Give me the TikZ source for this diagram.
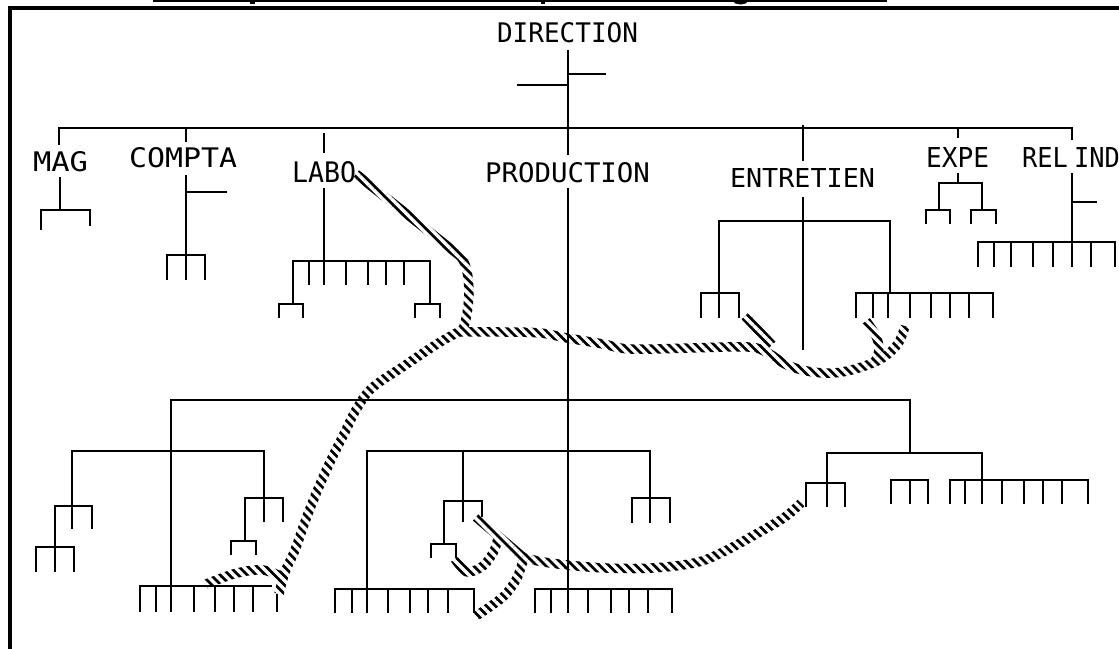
\documentclass[tikz,border=0pt]{standalone}
\usepackage{graphicx}
\usepackage{fontspec}
\newfontfamily\labfont{DejaVu Sans Mono}
\usetikzlibrary{patterns.meta}
\newcommand\orgbrack[4]{\draw[orgline] (#3,#2) -- (#3,#1) -- (#4,#1) -- (#4,#2);}
\newcommand\orgcomb[5]{\orgbrack{#1}{#2}{#3}{#4}\foreach \xx in {#5} {\draw[orgline] (\xx,#1) -- (\xx,#2);}}
\newcommand\lab[3]{\resizebox{#1bp}{#2bp}{\labfont #3}}
\begin{document}
\begin{tikzpicture}[x=1bp,y=-1bp,
  orgline/.style={line width=2bp, line join=miter},
  hatchband/.style={line width=9.5bp, line join=round},
  lab/.style={anchor=north west, inner sep=0pt, outer sep=0pt}]
\useasboundingbox (0,0) rectangle (1119,649);

% ---------- hatched paths (black bands, later striped) ----------
\draw[hatchband] (356,174) -- (460,256) .. controls (472,268) and (471,310) .. (462,332);
\draw[hatchband] plot[smooth, tension=0.6] coordinates {(458,332) (503,332) (540,333) (567,338) (603,344) (630,349) (690,348) (748,347) (768,353) (787,365) (813,372) (842,372) (877,361) (897,345) (905,326)};
\draw[hatchband] plot[smooth] coordinates {(866,321) (876,336) (879,350) (874,364)};
\draw[hatchband] (745,316) -- (772,345);
\draw[hatchband] plot[smooth, tension=0.6] coordinates {(462,330) (437,344) (404,366) (372,388) (356,410) (345,432) (331,460) (318,489) (306,519) (295,550) (285,572) (279,594)};
\draw[hatchband] plot[smooth] coordinates {(285,578) (263,570) (237,573) (206,584)};
\draw[hatchband] (476,517) -- (524,558);
\draw[hatchband] plot[smooth, tension=0.6] coordinates {(520,556) (538,561) (567,565) (606,568) (652,568) (694,563) (721,553) (758,533) (785,517) (801,503)};
\draw[hatchband] plot[smooth] coordinates {(455,559) (467,572) (483,566) (494,551) (499,534)};
\draw[hatchband] plot[smooth] coordinates {(476,616) (503,597) (517,578) (524,557)};
\fill[pattern={Lines[angle=-45,distance=6.4bp,line width=3.4bp]}, pattern color=white] (180,150) rectangle (940,630);

% ---------- labels ----------
\node[lab] (dir)  at (497,23)  {\lab{141}{20}{DIRECTION}};
\node[lab] (mag)  at (33,152)  {\lab{55}{20}{MAG}};
\node[lab] (cpt)  at (129,148) {\lab{108}{20}{COMPTA}};
\node[lab] (labo) at (292,162) {\lab{64}{21}{LABO}};
\node[lab] (prod) at (485,163) {\lab{165}{20}{PRODUCTION}};
\node[lab] (ent)  at (730,168) {\lab{145}{19}{ENTRETIEN}};
\node[lab] (expe) at (926,147) {\lab{63}{20}{EXPE}};
\node[lab] (rel)  at (1022,147){\lab{98}{20}{REL\kern-0.35em\ IND}};

% ---------- top level ----------
\draw[orgline] (568,50) -- (568,155);
\draw[orgline] (568,74) -- (606,74);
\draw[orgline] (517,85) -- (568,85);
\draw[orgline] (59,145) -- (59,128) -- (1072,128) -- (1072,140);
\draw[orgline] (186,128) -- (186,142);
\draw[orgline] (324,133) -- (324,153);
\draw[orgline] (803,125) -- (803,161);
\draw[orgline] (958,128) -- (958,138);

% MAG
\draw[orgline] (60,177) -- (60,210);
\draw[orgline] (41,230) -- (41,210) -- (90,210) -- (90,226);
% COMPTA
\draw[orgline] (186,175) -- (186,255);
\draw[orgline] (186,192) -- (227,192);
\orgcomb{255}{280}{167}{205}{186}
% LABO
\draw[orgline] (324,188) -- (324,261);
\orgcomb{261}{285}{293}{430}{309,324,346,368,386,404}
\draw[orgline] (293,261) -- (293,304);
\draw[orgline] (430,261) -- (430,304);
\orgbrack{304}{318}{279}{303}
\orgbrack{304}{318}{415}{440}
% ENTRETIEN
\draw[orgline] (803,197) -- (803,350);
\draw[orgline] (719,293) -- (719,221) -- (890,221) -- (890,293);
\orgcomb{293}{318}{701}{739}{719}
\orgcomb{293}{318}{856}{993}{873,888,910,931,950,969}
% EXPE
\draw[orgline] (958,173) -- (958,183);
\draw[orgline] (939,210) -- (939,183) -- (982,183) -- (982,210);
\orgbrack{210}{224}{926}{950}
\orgbrack{210}{224}{971}{996}
% REL IND
\draw[orgline] (1072,173) -- (1072,242);
\draw[orgline] (1072,202) -- (1097,202);
\orgcomb{242}{267}{978}{1115}{994,1011,1033,1053,1072,1091}

% ---------- PRODUCTION ----------
\draw[orgline] (568,188) -- (568,589);
\draw[orgline] (171,586) -- (171,400) -- (910,400) -- (910,453);
% left group
\draw[orgline] (72,506) -- (72,451) -- (264,451) -- (264,498);
\orgcomb{506}{529}{55}{92}{72}
\draw[orgline] (55,506) -- (55,547);
\orgcomb{547}{572}{36}{74}{55}
\orgcomb{498}{522}{245}{283}{264}
\draw[orgline] (245,498) -- (245,541);
\orgbrack{541}{555}{231}{256}
\draw[orgline] (140,612) -- (140,586) -- (272,586);
\foreach \xx in {156,171,194,215,234,253} {\draw[orgline] (\xx,586) -- (\xx,612);}
\draw[orgline] (277,594) -- (277,612);
% middle group
\draw[orgline] (367,589) -- (367,451) -- (650,451) -- (650,498);
\orgcomb{589}{613}{335}{474}{352,367,388,410,428,448}
\draw[orgline] (463,451) -- (463,501);
\orgbrack{501}{517}{444}{482}
\draw[orgline] (463,501) -- (463,522);
\draw[orgline] (444,501) -- (444,544);
\orgbrack{544}{558}{431}{456}
\orgcomb{498}{523}{632}{670}{650}
\orgcomb{589}{613}{535}{672}{551,568,588,611,629,648}
% right group
\draw[orgline] (827,483) -- (827,453) -- (982,453) -- (982,480);
\orgcomb{483}{507}{806}{845}{827}
\orgcomb{480}{504}{891}{928}{910}
\orgcomb{480}{504}{950}{1088}{965,982,1002,1024,1043,1062}

% ---------- frame and title remains ----------
\draw[line width=4bp, line join=miter] (10.3,660) -- (10.3,8.3) -- (1130,8.3);
\draw[line width=2bp] (153,0.8) -- (887,0.8);
\fill (250,-1) rectangle (254.5,4);
\fill (540.5,-1) rectangle (545,4);
\draw[line width=2.5bp] (733,-0.5) .. controls (735,4.5) and (746,4.5) .. (748,-0.5);
\end{tikzpicture}
\end{document}
